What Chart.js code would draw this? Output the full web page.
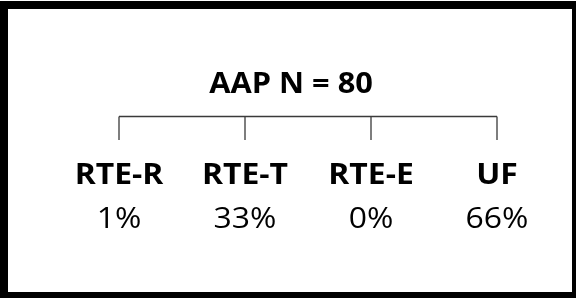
<!DOCTYPE html>
<html>
<head>
<meta charset="utf-8">
<script src="https://cdn.jsdelivr.net/npm/chart.js@4"></script>
<style>
  html, body { margin: 0; padding: 0; background: #fff; }
  #tree { display: block; }
</style>
</head>
<body>
<canvas id="tree" width="576" height="298"></canvas>
<script>
// Data
const titleText = 'AAP N = 80';
const groups = ['RTE-R', 'RTE-T', 'RTE-E', 'UF'];
const shares = [1, 33, 0, 66];

const FONT = '"Open Sans", sans-serif';
const STRETCH = 1.1; // source text is a bit wide

function stretchedText(ctx, text, x, y, font) {
    ctx.save();
    ctx.font = font;
    ctx.textAlign = 'center';
    ctx.textBaseline = 'alphabetic';
    ctx.translate(x, y);
    ctx.scale(STRETCH, 1);
    ctx.fillText(text, 0, 0);
    ctx.restore();
}

// draws the frame, the title, the bracket and the leaf labels
const treePlugin = {
    id: 'treePlugin',
    afterDraw(chart) {
        const ctx = chart.ctx;
        const xs = chart.scales.x;
        const W = chart.width, H = chart.height;

        // thick frame
        ctx.save();
        ctx.fillStyle = '#000';
        ctx.fillRect(0, 1, W, 8);       // top
        ctx.fillRect(0, 1, 8, H);       // left
        ctx.fillRect(W - 4, 1, 4, H);   // right
        ctx.fillRect(0, H - 6, W, 6);   // bottom
        ctx.restore();

        ctx.fillStyle = '#000';
        stretchedText(ctx, titleText, W / 2 + 3, 93, 'bold 28px ' + FONT);

        // bracket
        const centers = groups.map((g, i) => xs.getPixelForValue(i));
        const yTop = 116.5, yBot = 140;
        ctx.save();
        ctx.strokeStyle = '#3a3a3a';
        ctx.lineWidth = 1.3;
        ctx.beginPath();
        ctx.moveTo(centers[0], yTop);
        ctx.lineTo(centers[centers.length - 1], yTop);
        centers.forEach(cx => {
            ctx.moveTo(cx, yTop);
            ctx.lineTo(cx, yBot);
        });
        ctx.stroke();
        ctx.restore();

        groups.forEach((g, i) => {
            stretchedText(ctx, g, centers[i], 184, 'bold 29px ' + FONT);
            stretchedText(ctx, shares[i] + '%', centers[i], 228, '29px ' + FONT);
        });
    }
};

new Chart(document.getElementById('tree'), {
    type: 'line',
    data: {
        labels: groups,
        datasets: [{
            data: shares,
            showLine: false,
            pointRadius: 0,
            pointHoverRadius: 0
        }]
    },
    options: {
        responsive: false,
        animation: false,
        events: [],
        layout: { padding: { left: 56, right: 16, top: 20, bottom: 20 } },
        plugins: {
            legend: { display: false },
            tooltip: { enabled: false },
            title: { display: false }
        },
        scales: {
            x: { display: false, offset: true },
            y: { display: false, min: 0, max: 100 }
        }
    },
    plugins: [treePlugin]
});
</script>
</body>
</html>
